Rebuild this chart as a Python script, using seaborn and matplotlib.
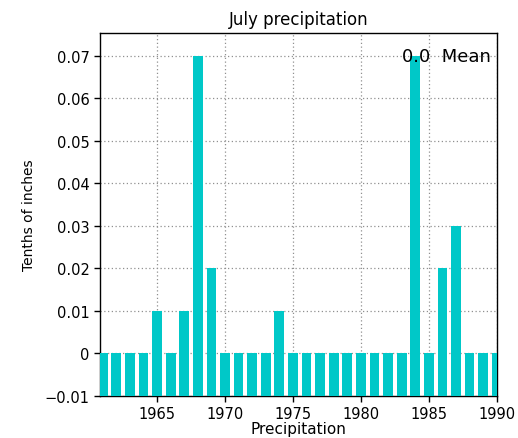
import numpy as np
import pandas as pd
import matplotlib
matplotlib.use("Agg")
import matplotlib.pyplot as plt
import matplotlib.ticker as mticker
import seaborn as sns

# data
years = list(range(1961, 1991))
precip = [0, 0, 0, 0, 0.01, 0, 0.01, 0.07, 0.02, 0,
          0, 0, 0, 0.01, 0, 0, 0, 0, 0, 0,
          0, 0, 0, 0.07, 0, 0.02, 0.03, 0, 0, 0]
yticks = [-0.01, 0, 0.01, 0.02, 0.03, 0.04, 0.05, 0.06, 0.07]
xticks = [1965, 1970, 1975, 1980, 1985, 1990]
base = -0.01

df = pd.DataFrame({"Year": years, "Precip": precip})

sns.set_style("ticks")
plt.rcParams['font.family'] = ['DejaVu Sans']
plt.rcParams['text.color'] = 'black'
plt.rcParams['axes.labelcolor'] = 'black'

fig = plt.figure(figsize=(5.18, 4.39), dpi=100)
ax = fig.add_axes([0.193, 0.096, 0.766, 0.827])

sns.barplot(data=df, x="Year", y="Precip", native_scale=True, width=0.72,
            color="#00c8c8", saturation=1, edgecolor="none", ax=ax, zorder=3)

# bars start at the bottom of the axis, not at zero
for p in ax.patches:
    h = p.get_height()
    p.set_y(base)
    p.set_height(h - base)

ax.set_xlim(1960.8, 1990)
ax.set_ylim(-0.01, 0.0754)
ax.set_xticks(xticks)
ax.set_yticks(yticks)
ax.yaxis.set_major_formatter(mticker.FuncFormatter(
    lambda v, pos: "0" if abs(v) < 1e-9 else f"{v:.2f}".replace("-", "\u2212")))

ax.grid(True, color="#909090", linestyle=(0, (1, 2)), linewidth=0.9, zorder=0)
ax.set_axisbelow(True)
for s in ax.spines.values():
    s.set_visible(True)
    s.set_color("black")
    s.set_linewidth(1)
ax.tick_params(direction="out", length=4, width=1, labelsize=10.5,
               colors="black", labelcolor="black")

ax.set_title("July precipitation", fontsize=12, pad=6, color="black")
ax.set_xlabel("Precipitation", fontsize=11, labelpad=0, color="black")
ax.set_ylabel("Tenths of inches", fontsize=10, labelpad=6, color="black")
ax.text(0.985, 0.07, "0.0  Mean", transform=ax.get_yaxis_transform(),
        ha="right", va="center", fontsize=13, color="black", zorder=5)

fig.savefig("out.png", dpi=100)
